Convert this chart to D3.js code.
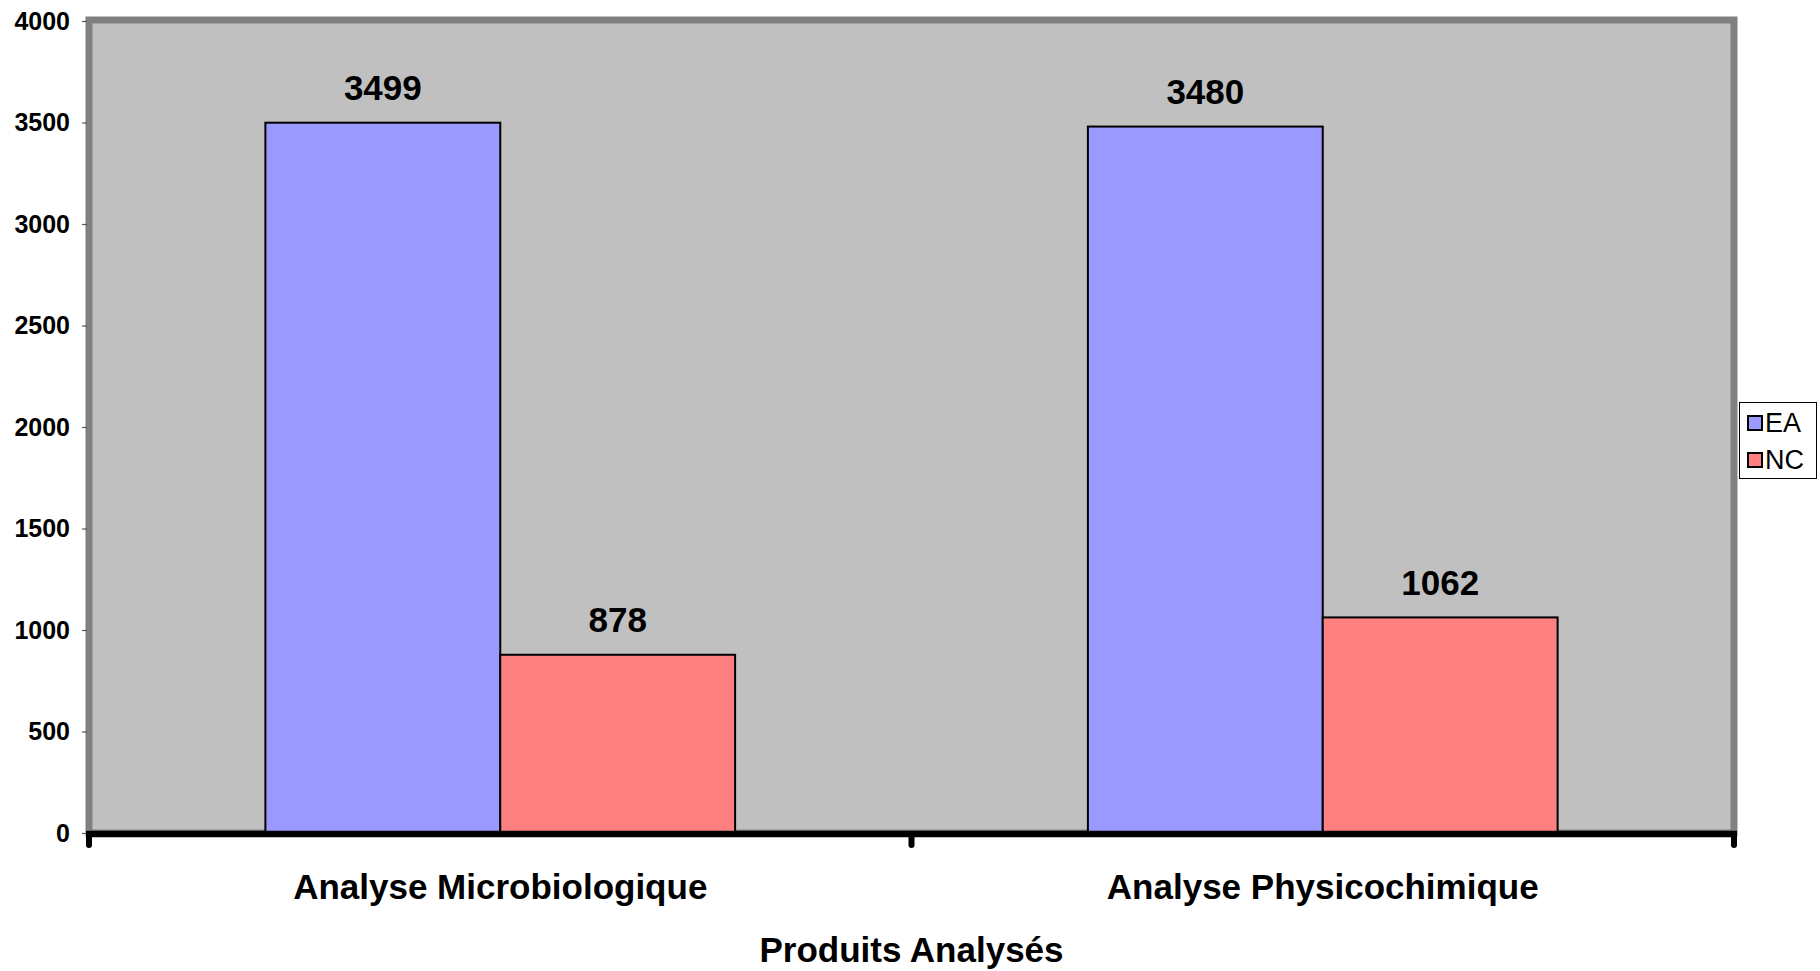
<!DOCTYPE html>
<html>
<head>
<meta charset="utf-8">
<script src="https://cdn.jsdelivr.net/npm/d3@7/dist/d3.min.js"></script>
<style>
  html, body { margin: 0; padding: 0; background: #ffffff; }
  svg { display: block; font-family: "Liberation Sans", Arial, sans-serif; }
</style>
</head>
<body>
<svg id="chart" width="1820" height="971"></svg>
<script>
const categories = ["Analyse Microbiologique", "Analyse Physicochimique"];
const seriesNames = ["EA", "NC"];
const valuesEA = [3499, 3480];
const valuesNC = [878, 1062];
const yTicks = [0, 500, 1000, 1500, 2000, 2500, 3000, 3500, 4000];
const seriesColors = ["#9999FF", "#FF8080"];
const xTitle = "Produits Analysés";

(function () {
const svg = d3.select("#chart");
const pLeft = 89, pRight = 1734, pTop = 21, pBottom = 833;

const x0 = d3.scaleBand().domain(categories).range([pLeft, pRight]).padding(0);
const x1 = d3.scaleBand().domain(seriesNames).range([0, x0.bandwidth()]).paddingInner(0).paddingOuter(0.751);
const y = d3.scaleLinear().domain([0, 4000]).range([pBottom, pTop]);
const color = d3.scaleOrdinal().domain(seriesNames).range(seriesColors);

// Plot area background + gray wall border
svg.append("rect")
  .attr("x", pLeft).attr("y", pTop - 1)
  .attr("width", pRight - pLeft).attr("height", pBottom - pTop + 1)
  .attr("fill", "#C0C0C0")
  .attr("stroke", "#808080").attr("stroke-width", 7);

const data = categories.map((c, i) => ({
  cat: c,
  vals: [{ s: "EA", v: valuesEA[i] }, { s: "NC", v: valuesNC[i] }]
}));

const groups = svg.append("g").selectAll("g").data(data).join("g")
  .attr("transform", d => `translate(${x0(d.cat)},0)`);

groups.selectAll("rect").data(d => d.vals).join("rect")
  .attr("x", d => x1(d.s))
  .attr("y", d => y(d.v))
  .attr("width", x1.bandwidth())
  .attr("height", d => y(0) - y(d.v))
  .attr("fill", d => color(d.s))
  .attr("stroke", "#000").attr("stroke-width", 2);

groups.selectAll("text").data(d => d.vals).join("text")
  .attr("x", d => x1(d.s) + x1.bandwidth() / 2)
  .attr("y", d => y(d.v) - 22.5)
  .attr("text-anchor", "middle")
  .attr("font-size", 35).attr("font-weight", "bold")
  .attr("fill", "#000")
  .text(d => d.v);

// Y axis
const yAxis = d3.axisLeft(y).tickValues(yTicks).tickFormat(d3.format("d")).tickSize(5).tickPadding(12);
const gy = svg.append("g").attr("transform", `translate(${pLeft - 2},0)`).call(yAxis);
gy.select(".domain").remove();
gy.selectAll(".tick line").attr("stroke", "#555").attr("stroke-width", 1.2);
gy.selectAll(".tick text")
  .attr("font-size", 25).attr("font-weight", "bold").attr("fill", "#000")
  .attr("font-family", "'Liberation Sans', Arial, sans-serif");

// X axis (thick black)
svg.append("line")
  .attr("x1", pLeft - 3).attr("x2", pRight + 3)
  .attr("y1", pBottom + 1).attr("y2", pBottom + 1)
  .attr("stroke", "#000").attr("stroke-width", 6.5);
const xTickPos = [pLeft, ...categories.slice(1).map(c => x0(c)), pRight];
svg.append("g").selectAll("line").data(xTickPos).join("line")
  .attr("x1", d => d).attr("x2", d => d)
  .attr("y1", pBottom + 1).attr("y2", pBottom + 12)
  .attr("stroke", "#000").attr("stroke-width", 6).attr("stroke-linecap", "round");

svg.append("g").selectAll("text").data(categories).join("text")
  .attr("x", d => x0(d) + x0.bandwidth() / 2)
  .attr("y", 899)
  .attr("text-anchor", "middle")
  .attr("font-size", 35).attr("font-weight", "bold").attr("fill", "#000")
  .text(d => d);

svg.append("text")
  .attr("x", (pLeft + pRight) / 2).attr("y", 962)
  .attr("text-anchor", "middle")
  .attr("font-size", 35).attr("font-weight", "bold").attr("fill", "#000")
  .text(xTitle);

// Legend
const lg = svg.append("g").attr("transform", "translate(1739.5,402.5)");
lg.append("rect").attr("width", 77).attr("height", 76)
  .attr("fill", "#fff").attr("stroke", "#000").attr("stroke-width", 1);
const items = lg.selectAll("g").data(seriesNames).join("g")
  .attr("transform", (d, i) => `translate(0,${i * 37})`);
items.append("rect")
  .attr("x", 8.5).attr("y", 13.5).attr("width", 14).attr("height", 14)
  .attr("fill", d => color(d)).attr("stroke", "#000").attr("stroke-width", 2);
items.append("text")
  .attr("x", 25.5).attr("y", 29)
  .attr("font-size", 27).attr("fill", "#000")
  .text(d => d);
})();
</script>
</body>
</html>
